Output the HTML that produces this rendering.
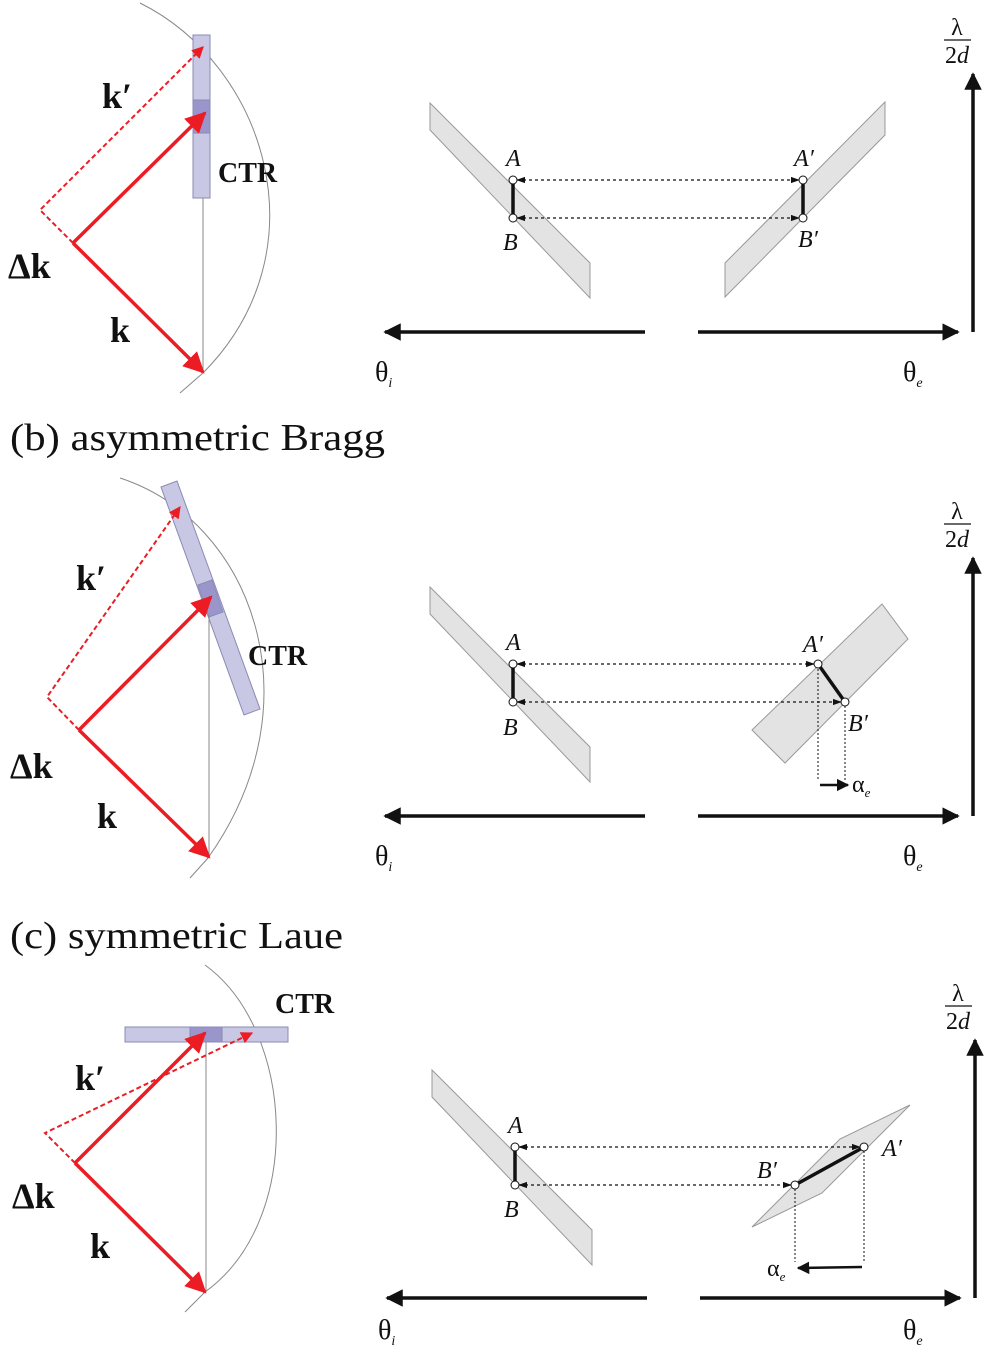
<!DOCTYPE html>
<html><head><meta charset="utf-8"><style>
html,body{margin:0;padding:0;background:#fff}
svg{display:block}
text{font-family:"Liberation Serif",serif;fill:#111}
.b{font-weight:bold}
.i{font-style:italic}
</style></head><body>
<svg width="996" height="1359" viewBox="0 0 996 1359">
<defs>
<marker id="ra" viewBox="0 0 10 10" refX="9" refY="5" markerWidth="6" markerHeight="6" orient="auto"><path d="M0,0 L10,5 L0,10 z" fill="#ec1c24"/></marker>
<marker id="ka" viewBox="0 0 10 10" refX="9" refY="5" markerWidth="5" markerHeight="5" orient="auto"><path d="M0,0 L10,5 L0,10 z" fill="#111"/></marker>
<marker id="sa" viewBox="0 0 10 10" refX="9" refY="5" markerWidth="7" markerHeight="7" orient="auto"><path d="M0,1.5 L10,5 L0,8.5 z" fill="#111"/></marker>
<marker id="sa2" viewBox="0 0 10 10" refX="1" refY="5" markerWidth="7" markerHeight="7" orient="auto"><path d="M10,1.5 L0,5 L10,8.5 z" fill="#111"/></marker>
</defs>

<!-- Panel a -->
<g>
<path d="M140,3 C265,65 325,250 203,373 L180,393" fill="none" stroke="#888" stroke-width="1"/>
<rect x="193" y="35" width="17" height="163" fill="#c8c8e4" stroke="#8a8ab4"/>
<rect x="193" y="100" width="17" height="33" fill="#9a96cc" stroke="#8a8ab4"/>
<line x1="203" y1="198" x2="203" y2="373" stroke="#888" stroke-width="1"/>
<polyline points="73,243 40,210 203,47" fill="none" stroke="#ec1c24" stroke-width="2" stroke-dasharray="5,3" marker-end="url(#ra)"/>
<line x1="73" y1="243" x2="205" y2="113" stroke="#ec1c24" stroke-width="3.5" marker-end="url(#ra)"/>
<line x1="73" y1="243" x2="203" y2="372" stroke="#ec1c24" stroke-width="3.5" marker-end="url(#ra)"/>
<text x="102" y="108" font-size="36" class="b">k′</text>
<text x="218" y="182" font-size="28" class="b">CTR</text>
<text x="8" y="278" font-size="36" class="b">Δk</text>
<text x="110" y="342" font-size="36" class="b">k</text>
<polygon points="430,103 590,263 590,298 430,130" fill="#e3e3e3" stroke="#999"/>
<polygon points="725,263 885,102 885,135 725,297" fill="#e3e3e3" stroke="#999"/>
<line x1="517" y1="180" x2="799" y2="180" stroke="#111" stroke-width="1.3" stroke-dasharray="3,3" marker-start="url(#sa2)" marker-end="url(#sa)"/>
<line x1="517" y1="218" x2="799" y2="218" stroke="#111" stroke-width="1.3" stroke-dasharray="3,3" marker-start="url(#sa2)" marker-end="url(#sa)"/>
<line x1="513" y1="180" x2="513" y2="218" stroke="#111" stroke-width="3.5"/>
<line x1="803" y1="180" x2="803" y2="218" stroke="#111" stroke-width="3.5"/>
<circle cx="513" cy="180" r="4" fill="#fff" stroke="#111"/><circle cx="513" cy="218" r="4" fill="#fff" stroke="#111"/>
<circle cx="803" cy="180" r="4" fill="#fff" stroke="#111"/><circle cx="803" cy="218" r="4" fill="#fff" stroke="#111"/>
<text x="506" y="166" font-size="24" class="i">A</text>
<text x="503" y="250" font-size="24" class="i">B</text>
<text x="794" y="166" font-size="24" class="i">A′</text>
<text x="798" y="247" font-size="24" class="i">B′</text>
<line x1="645" y1="332" x2="385" y2="332" stroke="#111" stroke-width="3.5" marker-end="url(#ka)"/>
<line x1="698" y1="332" x2="958" y2="332" stroke="#111" stroke-width="3.5" marker-end="url(#ka)"/>
<line x1="973" y1="332" x2="973" y2="74" stroke="#111" stroke-width="3.5" marker-end="url(#ka)"/>
<text x="957" y="35" font-size="24" text-anchor="middle">λ</text>
<line x1="944" y1="40" x2="971" y2="40" stroke="#111" stroke-width="1.3"/>
<text x="957" y="63" font-size="24" text-anchor="middle">2<tspan class="i">d</tspan></text>
<text x="375" y="381" font-size="28">θ<tspan font-size="14" class="i" dy="6">i</tspan></text>
<text x="903" y="381" font-size="28">θ<tspan font-size="14" class="i" dy="6">e</tspan></text>
</g>

<text x="10" y="450" font-size="38" textLength="375" lengthAdjust="spacingAndGlyphs">(b) asymmetric Bragg</text>

<!-- Panel b -->
<g>
<path d="M120,478 C250,520 320,700 208,858 L190,878" fill="none" stroke="#888" stroke-width="1"/>
<polygon points="161,487 177,481 260,709 244,715" fill="#c8c8e4" stroke="#8a8ab4"/>
<polygon points="198,585 212,580 223,612 209,617" fill="#9a96cc" stroke="#8a8ab4"/>
<line x1="209" y1="615" x2="209" y2="858" stroke="#888" stroke-width="1"/>
<polyline points="79,730 47,697 180,507" fill="none" stroke="#ec1c24" stroke-width="2" stroke-dasharray="5,3" marker-end="url(#ra)"/>
<line x1="79" y1="730" x2="211" y2="597" stroke="#ec1c24" stroke-width="3.5" marker-end="url(#ra)"/>
<line x1="79" y1="730" x2="209" y2="857" stroke="#ec1c24" stroke-width="3.5" marker-end="url(#ra)"/>
<text x="76" y="590" font-size="36" class="b">k′</text>
<text x="248" y="665" font-size="28" class="b">CTR</text>
<text x="10" y="778" font-size="36" class="b">Δk</text>
<text x="97" y="828" font-size="36" class="b">k</text>
<polygon points="430,587 590,747 590,782 430,614" fill="#e3e3e3" stroke="#999"/>
<polygon points="752,730 882,604 908,639 785,763" fill="#e3e3e3" stroke="#999"/>
<line x1="818" y1="665" x2="818" y2="780" stroke="#111" stroke-width="1" stroke-dasharray="2,2"/>
<line x1="845" y1="702" x2="845" y2="780" stroke="#111" stroke-width="1" stroke-dasharray="2,2"/>
<line x1="517" y1="664" x2="814" y2="664" stroke="#111" stroke-width="1.3" stroke-dasharray="3,3" marker-start="url(#sa2)" marker-end="url(#sa)"/>
<line x1="517" y1="702" x2="841" y2="702" stroke="#111" stroke-width="1.3" stroke-dasharray="3,3" marker-start="url(#sa2)" marker-end="url(#sa)"/>
<line x1="513" y1="664" x2="513" y2="702" stroke="#111" stroke-width="3.5"/>
<line x1="818" y1="664" x2="845" y2="702" stroke="#111" stroke-width="3.5"/>
<circle cx="513" cy="664" r="4" fill="#fff" stroke="#111"/><circle cx="513" cy="702" r="4" fill="#fff" stroke="#111"/>
<circle cx="818" cy="664" r="4" fill="#fff" stroke="#111"/><circle cx="845" cy="702" r="4" fill="#fff" stroke="#111"/>
<text x="506" y="650" font-size="24" class="i">A</text>
<text x="503" y="735" font-size="24" class="i">B</text>
<text x="803" y="652" font-size="24" class="i">A′</text>
<text x="848" y="731" font-size="24" class="i">B′</text>
<line x1="820" y1="785" x2="848" y2="785" stroke="#111" stroke-width="2.5" marker-end="url(#ka)"/>
<text x="852" y="792" font-size="24">α<tspan font-size="13" class="i" dy="5">e</tspan></text>
<line x1="645" y1="816" x2="385" y2="816" stroke="#111" stroke-width="3.5" marker-end="url(#ka)"/>
<line x1="698" y1="816" x2="958" y2="816" stroke="#111" stroke-width="3.5" marker-end="url(#ka)"/>
<line x1="973" y1="816" x2="973" y2="558" stroke="#111" stroke-width="3.5" marker-end="url(#ka)"/>
<text x="957" y="519" font-size="24" text-anchor="middle">λ</text>
<line x1="944" y1="524" x2="971" y2="524" stroke="#111" stroke-width="1.3"/>
<text x="957" y="547" font-size="24" text-anchor="middle">2<tspan class="i">d</tspan></text>
<text x="375" y="865" font-size="28">θ<tspan font-size="14" class="i" dy="6">i</tspan></text>
<text x="903" y="865" font-size="28">θ<tspan font-size="14" class="i" dy="6">e</tspan></text>
</g>

<text x="10" y="948" font-size="38" textLength="333" lengthAdjust="spacingAndGlyphs">(c) symmetric Laue</text>

<!-- Panel c -->
<g>
<path d="M205,965 C295,1030 305,1220 205,1292 L185,1312" fill="none" stroke="#888" stroke-width="1"/>
<rect x="125" y="1027" width="163" height="15" fill="#c8c8e4" stroke="#8a8ab4"/>
<rect x="190" y="1027" width="32" height="15" fill="#9a96cc" stroke="#8a8ab4"/>
<line x1="206" y1="1042" x2="206" y2="1292" stroke="#888" stroke-width="1"/>
<polyline points="75,1163 45,1133 252,1033" fill="none" stroke="#ec1c24" stroke-width="2" stroke-dasharray="5,3" marker-end="url(#ra)"/>
<line x1="75" y1="1163" x2="205" y2="1033" stroke="#ec1c24" stroke-width="3.5" marker-end="url(#ra)"/>
<line x1="75" y1="1163" x2="205" y2="1292" stroke="#ec1c24" stroke-width="3.5" marker-end="url(#ra)"/>
<text x="275" y="1013" font-size="28" class="b">CTR</text>
<text x="75" y="1090" font-size="36" class="b">k′</text>
<text x="12" y="1208" font-size="36" class="b">Δk</text>
<text x="90" y="1258" font-size="36" class="b">k</text>
<polygon points="432,1070 592,1230 592,1265 432,1097" fill="#e3e3e3" stroke="#999"/>
<polygon points="752,1227 822,1193 910,1105 840,1139" fill="#e3e3e3" stroke="#999"/>
<line x1="795" y1="1185" x2="795" y2="1262" stroke="#111" stroke-width="1" stroke-dasharray="2,2"/>
<line x1="864" y1="1147" x2="864" y2="1262" stroke="#111" stroke-width="1" stroke-dasharray="2,2"/>
<line x1="519" y1="1147" x2="860" y2="1147" stroke="#111" stroke-width="1.3" stroke-dasharray="3,3" marker-start="url(#sa2)" marker-end="url(#sa)"/>
<line x1="519" y1="1185" x2="791" y2="1185" stroke="#111" stroke-width="1.3" stroke-dasharray="3,3" marker-start="url(#sa2)" marker-end="url(#sa)"/>
<line x1="515" y1="1147" x2="515" y2="1185" stroke="#111" stroke-width="3.5"/>
<line x1="795" y1="1185" x2="864" y2="1147" stroke="#111" stroke-width="3.5"/>
<circle cx="515" cy="1147" r="4" fill="#fff" stroke="#111"/><circle cx="515" cy="1185" r="4" fill="#fff" stroke="#111"/>
<circle cx="864" cy="1147" r="4" fill="#fff" stroke="#111"/><circle cx="795" cy="1185" r="4" fill="#fff" stroke="#111"/>
<text x="508" y="1133" font-size="24" class="i">A</text>
<text x="504" y="1217" font-size="24" class="i">B</text>
<text x="882" y="1156" font-size="24" class="i">A′</text>
<text x="757" y="1178" font-size="24" class="i">B′</text>
<line x1="862" y1="1267" x2="798" y2="1268" stroke="#111" stroke-width="2.5" marker-end="url(#ka)"/>
<text x="767" y="1276" font-size="24">α<tspan font-size="13" class="i" dy="5">e</tspan></text>
<line x1="647" y1="1298" x2="387" y2="1298" stroke="#111" stroke-width="3.5" marker-end="url(#ka)"/>
<line x1="700" y1="1298" x2="960" y2="1298" stroke="#111" stroke-width="3.5" marker-end="url(#ka)"/>
<line x1="975" y1="1298" x2="975" y2="1040" stroke="#111" stroke-width="3.5" marker-end="url(#ka)"/>
<text x="958" y="1001" font-size="24" text-anchor="middle">λ</text>
<line x1="945" y1="1006" x2="972" y2="1006" stroke="#111" stroke-width="1.3"/>
<text x="958" y="1029" font-size="24" text-anchor="middle">2<tspan class="i">d</tspan></text>
<text x="378" y="1339" font-size="28">θ<tspan font-size="14" class="i" dy="6">i</tspan></text>
<text x="903" y="1339" font-size="28">θ<tspan font-size="14" class="i" dy="6">e</tspan></text>
</g>
</svg>
</body></html>
